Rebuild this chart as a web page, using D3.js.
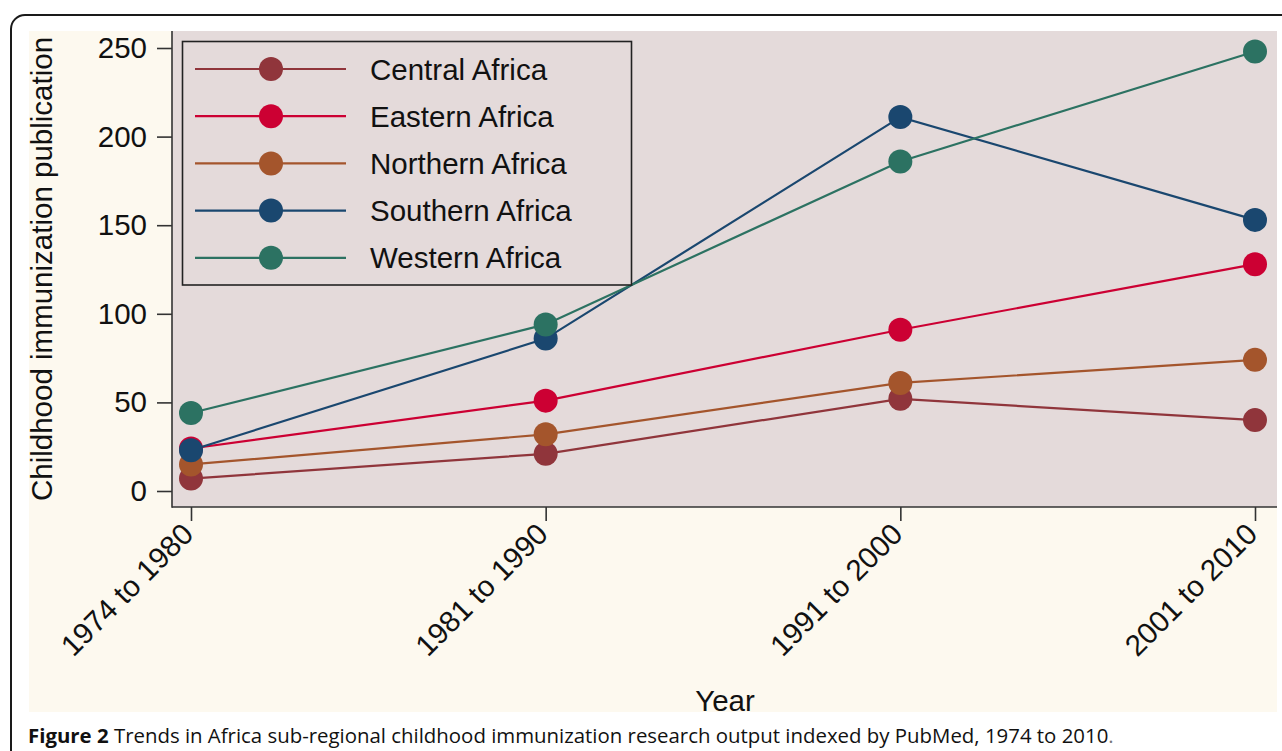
<!DOCTYPE html>
<html>
<head>
<meta charset="utf-8">
<script src="https://cdn.jsdelivr.net/npm/d3@7"></script>
<style>
  html, body { margin: 0; padding: 0; background: #ffffff; }
  svg { display: block; }
</style>
</head>
<body>
<svg id="chart" width="1282" height="751"></svg>
<script>
// ---- Data ----
const categories = ["1974 to 1980", "1981 to 1990", "1991 to 2000", "2001 to 2010"];
const seriesNames = ["Central Africa", "Eastern Africa", "Northern Africa", "Southern Africa", "Western Africa"];
const centralAfrica  = [7, 21, 52, 40];
const easternAfrica  = [24, 51, 91, 128];
const northernAfrica = [15, 32, 61, 74];
const southernAfrica = [23, 86, 211, 153];
const westernAfrica  = [44, 94, 186, 248];
const yTicks = [0, 50, 100, 150, 200, 250];
const seriesColors = ["#90353b", "#cc0033", "#a4552c", "#1a476f", "#2c7262"];
const yTitle = "Childhood immunization publication";
const xTitle = "Year";

const seriesValues = [centralAfrica, easternAfrica, northernAfrica, southernAfrica, westernAfrica];

// ---- Layout ----
const svg = d3.select("#chart");
const font = "'Liberation Sans', Arial, Helvetica, sans-serif";
const plot = { left: 172, right: 1277, top: 31, bottom: 507 };

// outer rounded frame
svg.append("rect")
  .attr("x", 11).attr("y", 15).attr("width", 1500).attr("height", 900)
  .attr("rx", 14).attr("ry", 14)
  .attr("fill", "#ffffff").attr("stroke", "#1a1a1a").attr("stroke-width", 2);

// cream graph region
svg.append("rect")
  .attr("x", 29).attr("y", 31).attr("width", 1277 - 29).attr("height", 712 - 31)
  .attr("fill", "#fdf9ef");

// plot region
svg.append("rect")
  .attr("x", plot.left).attr("y", plot.top)
  .attr("width", plot.right - plot.left).attr("height", plot.bottom - plot.top)
  .attr("fill", "#e4dada");

// ---- Scales ----
const x = d3.scalePoint().domain(categories).range([191, 1255]);
const y = d3.scaleLinear().domain([0, 250]).range([491, 48]);

// ---- Axes ----
const yAxis = d3.axisLeft(y).tickValues(yTicks).tickSize(15).tickPadding(10).tickFormat(d3.format("d"));
const gy = svg.append("g").attr("transform", `translate(${plot.left},0)`).call(yAxis);
gy.select(".domain").remove();
gy.selectAll(".tick line").attr("stroke", "#333").attr("stroke-width", 1.6);
gy.selectAll(".tick text")
  .attr("font-family", font).attr("font-size", 29.5).attr("fill", "#111");

const xAxis = d3.axisBottom(x).tickSize(14).tickFormat(() => "");
const gx = svg.append("g").attr("transform", `translate(0,${plot.bottom})`).call(xAxis);
gx.select(".domain").remove();
gx.selectAll(".tick line").attr("stroke", "#333").attr("stroke-width", 1.6);

// rotated x labels
svg.append("g").selectAll("text")
  .data(categories).join("text")
  .attr("transform", d => `translate(${x(d) + 4},${plot.bottom + 29}) rotate(-45)`)
  .attr("text-anchor", "end")
  .attr("font-family", font).attr("font-size", 29.5).attr("fill", "#111")
  .text(d => d);

// axis lines
svg.append("line").attr("x1", plot.left).attr("x2", plot.left)
  .attr("y1", plot.top).attr("y2", plot.bottom + 0.8)
  .attr("stroke", "#333").attr("stroke-width", 1.6);
svg.append("line").attr("x1", plot.left).attr("x2", plot.right)
  .attr("y1", plot.bottom).attr("y2", plot.bottom)
  .attr("stroke", "#333").attr("stroke-width", 1.6);

// axis titles
svg.append("text")
  .attr("transform", `translate(52,269) rotate(-90)`)
  .attr("text-anchor", "middle")
  .attr("font-family", font).attr("font-size", 29.5).attr("fill", "#111")
  .text(yTitle);
svg.append("text")
  .attr("x", 725).attr("y", 711)
  .attr("text-anchor", "middle")
  .attr("font-family", font).attr("font-size", 29.5).attr("fill", "#111")
  .text(xTitle);

// ---- Series ----
const line = d3.line().x((d, i) => x(categories[i])).y(d => y(d));
seriesValues.forEach((vals, si) => {
  const g = svg.append("g");
  g.append("path").datum(vals)
    .attr("d", line).attr("fill", "none")
    .attr("stroke", seriesColors[si]).attr("stroke-width", 2.2);
  g.selectAll("circle").data(vals).join("circle")
    .attr("cx", (d, i) => x(categories[i])).attr("cy", d => y(d))
    .attr("r", 12).attr("fill", seriesColors[si]);
});

// ---- Legend ----
const lg = svg.append("g");
lg.append("rect").attr("x", 182.5).attr("y", 41.5).attr("width", 449).attr("height", 243.5)
  .attr("fill", "#e4dada").attr("stroke", "#222").attr("stroke-width", 1.6);
seriesNames.forEach((name, i) => {
  const cy = 69 + i * 47.2;
  lg.append("line").attr("x1", 195).attr("x2", 346).attr("y1", cy).attr("y2", cy)
    .attr("stroke", seriesColors[i]).attr("stroke-width", 2.2);
  lg.append("circle").attr("cx", 271).attr("cy", cy).attr("r", 12).attr("fill", seriesColors[i]);
  lg.append("text").attr("x", 370).attr("y", cy).attr("dy", "0.36em")
    .attr("font-family", font).attr("font-size", 29.5).attr("fill", "#111")
    .text(name);
});

// ---- Caption ----
const cap = svg.append("text").attr("x", 28).attr("y", 743)
  .attr("font-family", "'Open Sans', 'Noto Sans', sans-serif").attr("font-size", 20.4).attr("fill", "#111");
cap.append("tspan").attr("font-weight", "bold").text("Figure 2");
cap.append("tspan").text(" Trends in Africa sub-regional childhood immunization research output indexed by PubMed, 1974 to 2010");
cap.append("tspan").attr("fill", "#777").text(".");
</script>
</body>
</html>
